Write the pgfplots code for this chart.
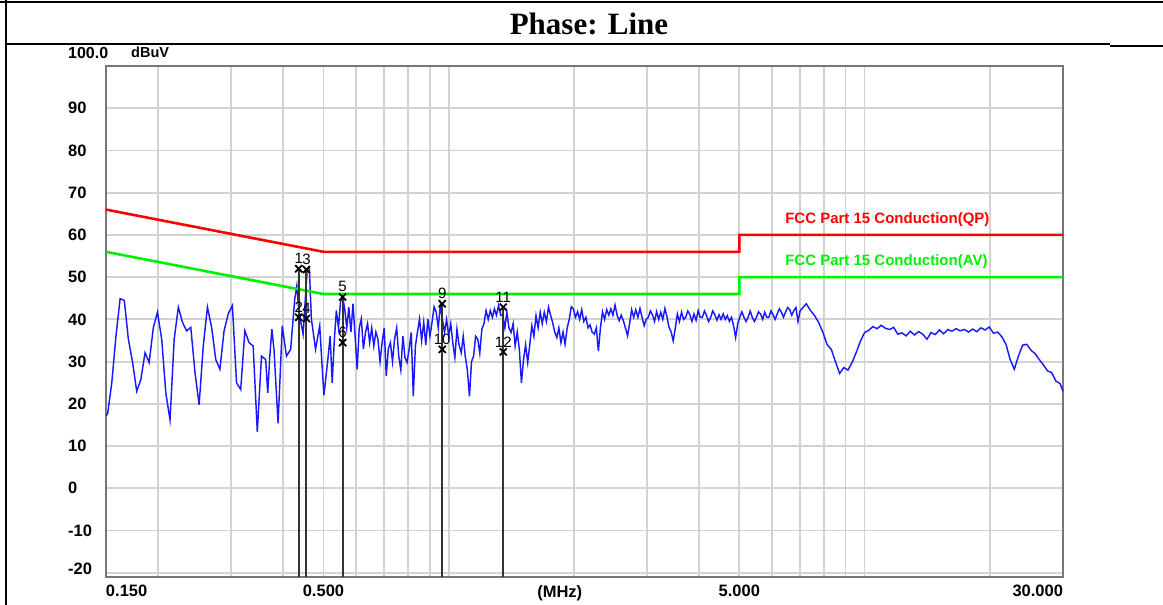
\documentclass[border=0pt]{standalone}
\usepackage{fontspec}
\usepackage{pgfplots}
\pgfplotsset{compat=1.18}
\usepackage{pgfplotstable}
\newfontfamily\arialfont{Liberation Sans}
\newfontfamily\timesfont{Liberation Serif}
\definecolor{gridgray}{HTML}{D2D2D2}
\definecolor{framegray}{HTML}{777777}
\definecolor{limred}{HTML}{FF0000}
\definecolor{limgreen}{HTML}{00F000}
\definecolor{tracecol}{HTML}{1818FF}

\pgfplotstableread{
f dB
0.1500 17.2
0.1514 17.7
0.1549 25.0
0.1585 36.0
0.1622 44.9
0.1660 44.5
0.1698 35.3
0.1738 29.8
0.1778 23.0
0.1820 25.8
0.1862 32.1
0.1905 29.8
0.1950 38.1
0.1995 41.7
0.2042 35.3
0.2089 22.6
0.2138 16.2
0.2188 35.3
0.2239 42.9
0.2291 39.3
0.2344 37.3
0.2399 38.1
0.2455 27.4
0.2512 19.8
0.2570 33.7
0.2630 42.9
0.2692 38.1
0.2754 30.5
0.2818 28.2
0.2884 37.3
0.2951 41.3
0.3020 43.3
0.3090 25.0
0.3162 23.4
0.3236 37.3
0.3311 34.5
0.3388 33.7
0.3467 13.4
0.3548 31.3
0.3631 30.5
0.3673 22.6
0.3715 31.3
0.3758 37.7
0.3802 32.9
0.3890 15.4
0.3981 38.5
0.4074 31.3
0.4169 32.9
0.4266 44.9
0.4315 48.0
0.4365 41.7
0.4467 36.5
0.4571 52.0
0.4624 52.0
0.4677 40.1
0.4786 32.9
0.4898 38.5
0.4955 30.0
0.5012 22.0
0.5129 31.0
0.5188 36.0
0.5248 25.0
0.5309 35.0
0.5370 42.1
0.5433 38.0
0.5495 44.1
0.5559 45.5
0.5623 42.5
0.5689 38.0
0.5754 42.9
0.5821 37.0
0.5888 43.7
0.5957 36.0
0.6026 28.2
0.6096 38.0
0.6166 40.1
0.6238 33.0
0.6310 36.9
0.6383 39.0
0.6457 34.5
0.6532 38.0
0.6607 33.7
0.6684 37.0
0.6761 35.3
0.6839 30.0
0.6918 34.5
0.6998 38.0
0.7079 26.6
0.7161 33.0
0.7244 34.5
0.7328 30.0
0.7413 35.3
0.7500 38.0
0.7586 31.3
0.7674 28.0
0.7762 36.1
0.7852 31.0
0.7943 29.8
0.8035 33.0
0.8128 36.9
0.8222 21.8
0.8318 33.7
0.8414 37.0
0.8511 40.1
0.8610 35.0
0.8710 39.3
0.8811 34.0
0.8913 40.1
0.9016 36.0
0.9120 39.3
0.9226 43.0
0.9333 41.7
0.9441 38.0
0.9550 43.3
0.9661 40.0
0.9772 36.9
0.9886 40.0
1.000 36.1
1.0116 39.0
1.023 34.5
1.035 31.0
1.047 37.7
1.059 34.0
1.072 32.1
1.084 36.0
1.096 31.3
1.109 28.0
1.122 21.8
1.135 30.0
1.148 31.3
1.161 36.0
1.175 35.3
1.188 32.0
1.202 37.7
1.216 39.0
1.230 42.1
1.245 40.0
1.259 42.1
1.274 40.5
1.288 42.5
1.303 41.0
1.318 43.3
1.334 41.0
1.349 40.9
1.365 38.0
1.380 41.7
1.396 38.0
1.413 36.9
1.429 39.0
1.445 33.7
1.462 37.0
1.479 32.9
1.496 25.0
1.514 30.5
1.531 34.0
1.549 29.8
1.567 34.0
1.585 38.5
1.603 36.0
1.622 40.9
1.641 38.0
1.660 41.7
1.679 39.0
1.698 41.7
1.718 39.5
1.738 42.9
1.758 41.0
1.778 39.3
1.799 37.0
1.820 35.7
1.841 38.0
1.862 34.5
1.884 37.0
1.905 34.1
1.928 38.0
1.950 40.1
1.972 43.0
1.995 42.5
2.018 40.5
2.042 41.8
2.065 40.0
2.089 42.3
2.113 39.5
2.138 40.5
2.163 38.0
2.188 38.7
2.213 37.0
2.239 36.5
2.265 38.0
2.291 32.5
2.317 38.0
2.344 41.8
2.371 40.0
2.399 42.3
2.427 41.0
2.455 42.5
2.483 41.0
2.512 43.4
2.541 41.0
2.570 39.7
2.600 41.0
2.630 39.7
2.661 38.0
2.692 36.1
2.723 39.0
2.754 42.3
2.786 40.5
2.818 42.3
2.851 40.5
2.884 42.6
2.917 40.5
2.951 38.5
2.985 40.0
3.020 40.5
3.055 42.0
3.090 41.1
3.126 39.5
3.162 41.8
3.199 40.0
3.236 41.7
3.273 40.0
3.311 42.6
3.350 40.5
3.388 38.1
3.428 37.0
3.467 34.9
3.508 38.0
3.548 41.3
3.589 39.5
3.631 41.7
3.673 40.0
3.715 40.5
3.758 42.0
3.802 41.1
3.846 39.5
3.890 41.3
3.935 39.8
3.981 42.1
4.027 40.5
4.074 40.5
4.121 42.0
4.169 40.9
4.217 39.5
4.266 40.5
4.315 42.0
4.365 41.1
4.416 39.8
4.467 41.1
4.519 40.0
4.571 41.3
4.624 40.0
4.677 40.9
4.731 39.5
4.786 40.5
4.842 38.5
4.898 35.7
4.955 39.0
5.012 40.5
5.070 41.8
5.129 40.5
5.188 39.5
5.248 40.5
5.309 42.0
5.370 40.5
5.433 39.5
5.495 40.5
5.559 41.8
5.623 41.3
5.689 40.0
5.754 41.7
5.821 40.5
5.888 40.5
5.957 42.0
6.026 41.1
6.096 40.0
6.166 41.3
6.238 42.5
6.310 41.7
6.383 40.5
6.457 41.7
6.532 42.8
6.607 42.3
6.684 41.0
6.761 42.1
6.839 42.8
6.918 39.5
6.998 42.0
7.079 42.6
7.244 43.7
7.413 42.1
7.586 40.9
7.762 39.2
7.943 36.9
8.128 34.0
8.318 32.9
8.511 30.0
8.710 27.2
8.913 28.6
9.120 28.0
9.333 29.8
9.550 32.2
9.772 34.8
10.00 36.9
10.23 37.4
10.47 38.3
10.72 37.8
10.96 38.6
11.22 37.9
11.48 37.6
11.75 38.1
12.02 36.5
12.30 36.8
12.59 36.1
12.88 37.2
13.18 36.3
13.49 37.1
13.80 36.5
14.13 35.3
14.45 36.9
14.79 36.4
15.14 37.5
15.49 36.6
15.85 37.6
16.22 37.2
16.60 37.8
16.98 37.3
17.38 37.6
17.78 37.0
18.20 37.7
18.62 37.1
19.05 38.0
19.50 37.5
19.95 38.2
20.42 36.7
20.89 37.0
21.38 35.9
21.88 34.1
22.39 30.5
22.91 28.2
23.44 31.3
23.99 33.9
24.55 34.1
25.12 32.7
25.70 31.9
26.30 30.5
26.92 29.2
27.54 27.8
28.18 27.4
28.84 25.4
29.51 24.8
30.00 23.0
}\trace

\begin{document}
\begin{tikzpicture}[x=1pt,y=1pt]
\path[use as bounding box] (0,0) rectangle (1163,605);
% outer table frame
\draw[black, line width=2.5pt] (6,0) -- (6,605);
\draw[black, line width=2.5pt] (0,603) -- (1163,603);
\draw[black, line width=2pt] (5,561) -- (1110,561);
\draw[black, line width=2.5pt] (1110,559) -- (1163,559);
\node[font=\timesfont\bfseries\fontsize{31}{31}\selectfont, anchor=base] at (589,570) {Phase: Line};
\node[font=\arialfont\bfseries\fontsize{16}{16}\selectfont, anchor=west, inner sep=0pt] at (68,552) {100.0};
\node[font=\arialfont\bfseries\fontsize{14.5}{14.5}\selectfont, anchor=west, inner sep=0pt] at (131,552.5) {dBuV};
\begin{axis}[
  at={(106pt,28pt)}, anchor=south west,
  scale only axis, width=957pt, height=511pt,
  xmode=log, xmin=0.15, xmax=30, ymin=-21, ymax=100,
  xtick={0.15,0.5,5,30},
  xticklabels={\makebox[0pt][l]{0.150},0.500,5.000,\makebox[0pt][r]{30.000}},
  minor xtick={0.2,0.3,0.4,0.6,0.7,0.8,0.9,1,2,3,4,6,7,8,9,10,20},
  ytick={-20,-10,0,10,20,30,40,50,60,70,80,90},
  yticklabels={\raisebox{8pt}{-20},-10,0,10,20,30,40,50,60,70,80,90},
  grid=both,
  major grid style={draw=gridgray, line width=1.8pt},
  minor grid style={draw=gridgray, line width=1.8pt},
  major tick length=0pt, minor tick length=0pt,
  axis line style={draw=framegray, line width=2pt},
  ticklabel style={font=\arialfont\bfseries\fontsize{16.5}{16.5}\selectfont, inner sep=0pt},
  xticklabel style={anchor=north, yshift=-8pt},
  yticklabel style={anchor=west, xshift=-38pt},
  clip=false,
]
\addplot[tracecol, line width=1.45pt] table[x=f, y=dB] {\trace};
\addplot[limred, line width=2.6pt] coordinates {(0.15,66) (0.5,56) (5,56) (5,60) (30,60)};
\addplot[limgreen, line width=2.6pt] coordinates {(0.15,56) (0.5,46) (5,46) (5,50) (30,50)};
\addplot[black!80, line width=2pt] coordinates {(0.436,-21) (0.436,52.0)};
\addplot[black!80, line width=2pt] coordinates {(0.455,-21) (0.455,51.8)};
\addplot[black!80, line width=2pt] coordinates {(0.556,-21) (0.556,45.3)};
\addplot[black!80, line width=2pt] coordinates {(0.965,-21) (0.965,43.7)};
\addplot[black!80, line width=2pt] coordinates {(1.353,-21) (1.353,42.9)};
\addplot[only marks, mark=x, mark size=5pt, mark options={black, line width=1.8pt},
  nodes near coords, point meta=explicit symbolic,
  every node near coord/.style={font=\arialfont\fontsize{15}{15}\selectfont, black, anchor=south, inner sep=0pt, yshift=4pt}]
  coordinates {(0.436,52.0)[1] (0.436,40.5)[2] (0.455,51.8)[3] (0.455,40.2)[4]
   (0.556,45.3)[5] (0.556,34.5)[6] (0.965,43.7)[9] (0.965,32.9)[10]
   (1.353,42.9)[11] (1.353,32.3)[12]};
\node[font=\arialfont\bfseries\fontsize{15}{15}\selectfont, text=limred, anchor=west, inner sep=0pt] at (axis cs:6.44,63.7) {FCC Part 15 Conduction(QP)};
\node[font=\arialfont\bfseries\fontsize{15}{15}\selectfont, text=limgreen, anchor=west, inner sep=0pt] at (axis cs:6.44,53.6) {FCC Part 15 Conduction(AV)};
\node[font=\arialfont\bfseries\fontsize{16.5}{16.5}\selectfont, anchor=north, inner sep=0pt, yshift=-8pt] at (axis cs:1.85,-21) {(MHz)};
\end{axis}
\end{tikzpicture}
\end{document}
